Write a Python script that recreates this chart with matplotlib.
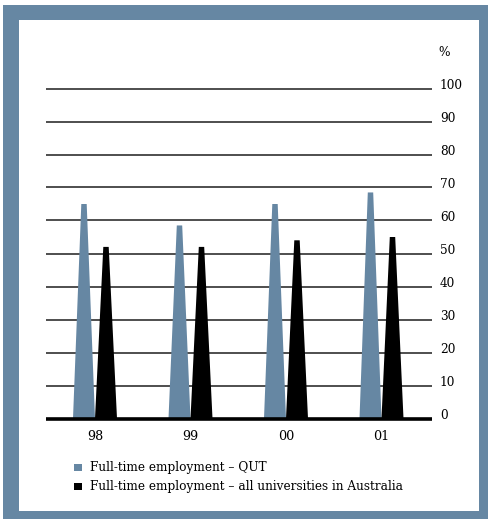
import matplotlib
matplotlib.use("Agg")
import matplotlib.pyplot as plt
from matplotlib.patches import Polygon, Rectangle

years = ["98", "99", "00", "01"]
qut = [65, 58.5, 65, 68.5]
all_unis = [52, 52, 54, 55]
yticks = [0, 10, 20, 30, 40, 50, 60, 70, 80, 90, 100]
legend_labels = ["Full-time employment \u2013 QUT",
                 "Full-time employment \u2013 all universities in Australia"]

blue = "#6687a3"
black = "#000000"
font = "DejaVu Serif"

W, H = 488, 519
fig = plt.figure(figsize=(W / 100, H / 100), dpi=100)
fig.patch.set_facecolor("white")


def fx(px):
    return px / W


def fy(py):
    return 1 - py / H


# blue frame around the white panel
fig.patches.append(Rectangle((fx(3), 0), 1 - fx(3), fy(5), transform=fig.transFigure,
                             facecolor=blue, edgecolor="none", zorder=-2))
fig.patches.append(Rectangle((fx(19), fy(511)), fx(479) - fx(19), fy(20) - fy(511),
                             transform=fig.transFigure, facecolor="white",
                             edgecolor="none", zorder=-1))

ax_left, ax_right = 46, 432
ax_top, ax_bottom = 88.5, 418.5
ax = fig.add_axes([fx(ax_left), fy(ax_bottom), fx(ax_right) - fx(ax_left),
                   fy(ax_top) - fy(ax_bottom)], zorder=2)
ax.set_facecolor("none")

spacing = 95.5
first_center = 95
ax.set_xlim(-(first_center - ax_left) / spacing, (ax_right - first_center) / spacing)
ax.set_ylim(0, 100)

for s in ax.spines.values():
    s.set_visible(False)
ax.set_xticks([])
ax.set_yticks([])

# horizontal rules
for v in yticks[1:]:
    ax.axhline(v, color="#1e1e1e", lw=1.1, zorder=1, clip_on=False,
               solid_capstyle="butt")
ax.axhline(0, color="black", lw=2.6, zorder=4, clip_on=False, solid_capstyle="butt")

# tapered bars
base_half = 11 / spacing
top_half = 2.7 / spacing
for i, (a, b) in enumerate(zip(qut, all_unis)):
    for c, v, col in ((i - base_half, a, blue), (i + base_half, b, black)):
        poly = Polygon([(c - base_half, 0), (c + base_half, 0),
                        (c + top_half, v), (c - top_half, v)],
                       closed=True, facecolor=col, edgecolor="none", zorder=3)
        ax.add_patch(poly)

# value labels on the right
label_x = 1.0 + 8 / (ax_right - ax_left)
for v in yticks:
    ax.text(label_x, v + 1.0, str(v), transform=ax.get_yaxis_transform(),
            ha="left", va="center", fontsize=8.7, family=font, color="black",
            clip_on=False)
fig.text(fx(444), fy(52), "%", ha="center", va="center", fontsize=8.7, family=font)

# category labels
for i, y in enumerate(years):
    ax.text(i, -(436 - ax_bottom) / 3.3, y, ha="center", va="center",
            fontsize=9.2, family=font, clip_on=False)

# legend
for k, (lab, col) in enumerate(zip(legend_labels, [blue, black])):
    yc = 467.5 + k * 19
    fig.patches.append(Rectangle((fx(74), fy(yc + 3.5)), fx(8), 7 / H,
                                 transform=fig.transFigure, facecolor=col,
                                 edgecolor="none"))
    fig.text(fx(90), fy(yc), lab, ha="left", va="center", fontsize=8.7, family=font)

fig.savefig("out.png", dpi=100)
